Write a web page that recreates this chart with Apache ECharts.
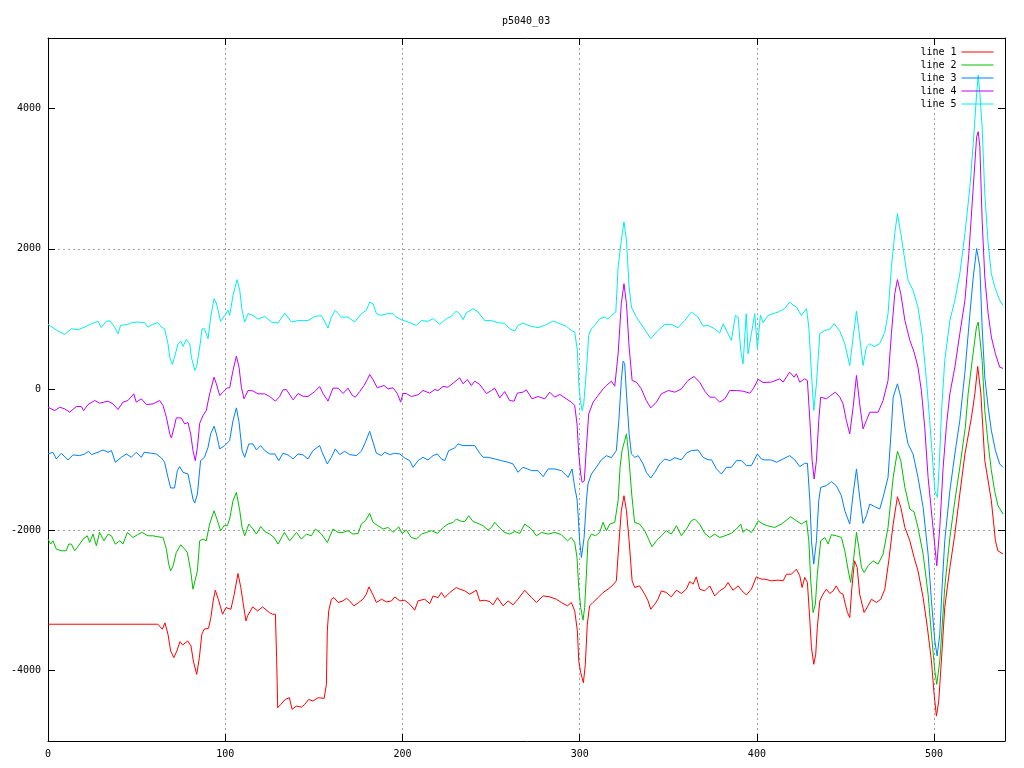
<!DOCTYPE html>
<html><head><meta charset="utf-8">
<script src="https://cdn.jsdelivr.net/npm/echarts@6/dist/echarts.min.js"></script>
<style>html,body{margin:0;padding:0;background:#fff}#c{width:1024px;height:768px}</style>
</head><body><div id="c"></div>
<script>
const titleText = 'p5040_03';
const seriesNames = ['line 1', 'line 2', 'line 3', 'line 4', 'line 5'];
const xTicks = [0, 100, 200, 300, 400, 500];
const yTicks = [-4000, -2000, 0, 2000, 4000];

const line1 = [[0,-3339],[62,-3339],[64.5,-3410],[66,-3320],[67.7,-3481],[69.2,-3719],[71,-3815],[72.7,-3719],[74.5,-3586],[76,-3634],[78.8,-3577],[80.7,-3648],[82,-3862],[83.9,-4052],[85.4,-3815],[86.8,-3481],[88.1,-3410],[90.6,-3396],[91.9,-3244],[93.2,-3007],[94.4,-2855],[96.1,-2983],[98.5,-3197],[100.4,-3102],[103.2,-3126],[105.1,-2912],[107.2,-2617],[108.8,-2817],[110.2,-3054],[111.7,-3292],[112.6,-3221],[115.5,-3093],[118.3,-3150],[121.1,-3093],[124.9,-3173],[126.8,-3197],[128.3,-3197],[129,-3815],[129.6,-4527],[131.4,-4479],[133.9,-4408],[136.2,-4384],[137.7,-4550],[140.2,-4503],[143,-4518],[144.9,-4479],[147.1,-4408],[149.5,-4432],[152.4,-4384],[155.8,-4394],[157.1,-4194],[157.6,-3434],[158.4,-3149],[159.9,-2983],[161.4,-2960],[163.7,-3030],[166.5,-3007],[168.4,-2970],[170.2,-3007],[172.6,-3078],[175.3,-3030],[177.7,-2983],[179.6,-2912],[181.1,-2807],[183.4,-2922],[185.3,-3030],[188.2,-2983],[191,-3021],[193.8,-3007],[195.7,-2950],[198.5,-3007],[201.3,-2998],[204.1,-3054],[206.9,-3139],[208.8,-3007],[212.6,-2983],[215.4,-3045],[217.3,-2936],[220.1,-2960],[222,-2888],[223.9,-2960],[226.7,-2888],[230.4,-2817],[232.3,-2840],[235.2,-2864],[238,-2912],[241.7,-2855],[243.6,-3007],[246.4,-2998],[249.3,-3017],[251.1,-3064],[253.6,-2960],[256.8,-3078],[259.6,-3007],[262.4,-3064],[265.2,-2983],[269,-2855],[272.8,-2960],[275.6,-3030],[279.4,-2936],[283.1,-2950],[286.9,-2983],[289.7,-3030],[293.1,-3078],[295.3,-3030],[297.2,-3149],[298.7,-3434],[299.5,-3862],[300.6,-4028],[302.1,-4171],[303.2,-3910],[304.3,-3339],[305.6,-3078],[307.5,-3030],[310.4,-2960],[313.2,-2888],[316,-2840],[318.3,-2793],[320.7,-2722],[322.1,-2199],[323.5,-1724],[325,-1511],[326.4,-1724],[327.9,-2152],[329.6,-2722],[331.1,-2817],[333.8,-2793],[336.7,-2912],[338.6,-3007],[340.1,-3126],[342.4,-3054],[344.2,-2983],[346.1,-2864],[348.9,-2888],[351.7,-2950],[354.6,-2855],[357.4,-2902],[360.2,-2840],[362.1,-2731],[364,-2769],[365.8,-2665],[367.7,-2840],[370.6,-2864],[373.4,-2793],[376.2,-2936],[379,-2864],[381.9,-2817],[383.7,-2745],[386.5,-2855],[389.4,-2793],[391.6,-2864],[394.1,-2922],[396.9,-2840],[399.7,-2665],[402.5,-2698],[404.5,-2698],[408.2,-2722],[412,-2712],[414.8,-2722],[416.7,-2627],[419.5,-2627],[422.3,-2555],[424.2,-2650],[425.5,-2817],[427,-2674],[428.5,-2745],[429.9,-3292],[430.8,-3672],[432.1,-3909],[433.2,-3767],[434.1,-3387],[435.5,-3007],[437.3,-2912],[439.2,-2840],[441.1,-2902],[443,-2864],[444.8,-2793],[446.8,-2888],[448.6,-2912],[449.9,-3054],[451.1,-3173],[452.4,-3244],[453.6,-2817],[455.1,-2437],[456.6,-2532],[458,-2912],[460.5,-3173],[462.7,-3078],[464.6,-2983],[467.4,-3030],[469.9,-2983],[472.2,-2840],[474.4,-2437],[476.9,-1914],[479.3,-1525],[481.2,-1677],[483.5,-1962],[486.3,-2152],[488.7,-2390],[490.9,-2579],[493.8,-2960],[496.2,-3387],[498.5,-3862],[500,-4336],[501.3,-4646],[502.6,-4432],[504.1,-3862],[506,-3102],[508.9,-2532],[511.7,-2057],[514.5,-1487],[517.4,-917],[521.1,-394],[523,-62],[524.6,328],[526.4,-62],[527.7,-632],[528.6,-1012],[530.5,-1300],[532.3,-1582],[534.6,-2152],[536,-2294],[538.9,-2341]];

const line2 = [[0,-2128],[1.5,-2199],[2.8,-2152],[4.7,-2270],[7.5,-2294],[10.3,-2294],[11.7,-2199],[13.2,-2199],[15.1,-2294],[17.9,-2199],[19.8,-2128],[22.2,-2081],[23.5,-2176],[25.4,-2057],[27.3,-2223],[29.1,-2033],[31.6,-2152],[33.9,-2057],[35.8,-2081],[38,-2199],[40.5,-2152],[42.3,-2199],[44.8,-2033],[48,-2105],[50.5,-2066],[53.1,-2033],[56.4,-2081],[59.3,-2081],[62,-2095],[64.9,-2105],[66.8,-2270],[68.1,-2484],[69.2,-2579],[70.6,-2508],[72.4,-2318],[74.9,-2209],[77.1,-2270],[78.6,-2318],[80.5,-2579],[81.8,-2840],[82.7,-2854],[84.3,-2579],[85.6,-2152],[87.5,-2128],[89.3,-2152],[91.2,-1914],[93.7,-1724],[95.3,-1843],[97.4,-2009],[99.3,-1938],[101.2,-1938],[102.5,-1843],[104.4,-1582],[106.3,-1463],[108.2,-1724],[109.5,-1962],[111,-2081],[113.3,-1914],[115.7,-1985],[117.6,-2057],[120,-1950],[122.3,-2020],[125.1,-2057],[127.6,-2105],[129.8,-2199],[133.4,-2033],[136.4,-2152],[140.2,-2033],[143,-2128],[145.8,-2057],[148.6,-2081],[150.9,-1985],[154.3,-2057],[157.6,-2176],[160.8,-1985],[163.7,-2033],[166.5,-2033],[169.3,-2009],[172.1,-2057],[175,-2047],[176.8,-1914],[179.1,-1867],[181.5,-1762],[183.4,-1890],[186.2,-1938],[189.1,-1985],[191.9,-1962],[194.7,-2033],[197.9,-1953],[199.8,-2047],[202.2,-2000],[205,-2105],[207.9,-2128],[210.7,-2057],[213.5,-2033],[216.4,-2009],[219.8,-2047],[223,-1962],[225.7,-1914],[228.6,-1890],[230.4,-1843],[233.3,-1877],[235.2,-1877],[237.4,-1795],[239.8,-1877],[242.7,-1905],[245.5,-1938],[248.3,-2000],[250.2,-1962],[252.1,-1890],[254.9,-1970],[257.7,-2033],[260.5,-2057],[263.4,-2020],[266.2,-2047],[269,-1914],[272.8,-1985],[275.6,-2081],[278.5,-2033],[282.2,-2057],[286,-2033],[289.7,-2066],[293.1,-2152],[295.3,-2105],[297.2,-2176],[298.5,-2390],[299.5,-2817],[300.6,-3102],[301.9,-3282],[302.8,-3102],[303.8,-2626],[304.7,-2152],[306.6,-2057],[308.9,-2081],[311.3,-2033],[313.2,-1890],[315.1,-2009],[317,-1914],[319.8,-1890],[321.7,-1582],[322.8,-1107],[323.9,-869],[325.4,-727],[326.4,-631],[327.6,-917],[329.4,-1500],[331,-1890],[333.8,-1914],[336.7,-2009],[338.9,-2128],[340.8,-2237],[343.3,-2152],[346.1,-2081],[348.9,-2009],[351.7,-2057],[354.6,-1938],[357.4,-2081],[360.2,-1985],[363,-1867],[364.9,-1843],[367.7,-1914],[370.6,-2047],[373.4,-2105],[376.2,-2057],[379,-2105],[381.9,-2081],[385.6,-2047],[388.4,-1985],[390.9,-1914],[392.2,-2033],[394.1,-1985],[396.9,-2033],[398.8,-1962],[400.7,-1867],[403.5,-1914],[406,-1938],[410.1,-1962],[413.9,-1914],[419.1,-1810],[422.3,-1867],[425.1,-1914],[428,-1867],[429.3,-2152],[430.4,-2722],[431.7,-3173],[433,-3054],[434.1,-2626],[436,-2152],[438.3,-2105],[440.2,-2199],[442,-2066],[444.8,-2081],[447.7,-2105],[449.6,-2294],[451.4,-2555],[452.9,-2745],[454.3,-2484],[456.2,-2033],[457.5,-2247],[459,-2532],[460.5,-2603],[462.7,-2508],[465.5,-2437],[468.4,-2484],[471.2,-2341],[474,-1962],[476.9,-1249],[479.3,-879],[481.2,-1012],[483.5,-1392],[486.3,-1700],[488.7,-1743],[490.9,-1962],[493.8,-2341],[496.6,-2911],[498.5,-3481],[500.4,-4004],[501.5,-4194],[503.2,-3862],[504.5,-3387],[506,-2817],[508.9,-2105],[511.7,-1582],[514.5,-1107],[517.6,-537],[519.2,-62],[521.5,413],[523.9,888],[524.9,960],[527.1,413],[528.6,-300],[530.5,-774],[532.3,-1150],[534.2,-1450],[536,-1650],[538.9,-1771]];

const line3 = [[0,-917],[2.8,-893],[4.7,-988],[7.5,-907],[11.3,-1002],[14.1,-930],[17.9,-940],[20.7,-917],[22.9,-879],[24.5,-926],[28.2,-893],[31,-860],[33.9,-893],[35.8,-869],[38,-1035],[41.4,-964],[44.2,-917],[47,-964],[49.8,-893],[52.7,-964],[54.2,-893],[58.3,-907],[61.1,-917],[64,-974],[65.8,-1035],[67.7,-1249],[69.2,-1401],[71.4,-1401],[73,-1154],[74.3,-1097],[76.2,-1178],[79,-1202],[80.5,-1392],[81.8,-1558],[82.8,-1615],[84.3,-1487],[86.1,-1012],[88.3,-964],[90.3,-822],[91.8,-631],[93.7,-522],[95,-631],[96.9,-845],[99.7,-798],[102.5,-727],[104.4,-442],[106.3,-261],[107.8,-465],[109.5,-869],[111,-964],[113.3,-774],[115.7,-774],[117.6,-860],[120,-798],[122.3,-869],[125.1,-917],[128,-917],[130.2,-1012],[132.6,-907],[135.4,-930],[138.3,-988],[141.1,-917],[143.9,-930],[146.7,-988],[149.5,-869],[153.3,-798],[154.7,-893],[157.6,-1059],[159.9,-964],[162.1,-845],[164.6,-926],[167.4,-879],[170.2,-926],[174,-940],[176.8,-879],[179.1,-750],[181.5,-594],[183.4,-750],[185.3,-907],[188.2,-940],[190,-893],[192.8,-926],[195.7,-907],[198.5,-917],[201.3,-974],[204.1,-1012],[206,-1107],[208.8,-1012],[211.6,-964],[214.4,-1002],[217.3,-940],[219.7,-917],[222,-988],[223.9,-1012],[226.1,-869],[229.5,-831],[231.4,-774],[234.2,-798],[237,-798],[240.8,-798],[243.6,-907],[245.5,-964],[248.3,-964],[252.1,-988],[255.8,-1012],[259.6,-1035],[262.4,-1059],[265.2,-1178],[268,-1107],[270.5,-1130],[272.8,-1154],[276.5,-1154],[279.4,-1240],[282.2,-1130],[286,-1130],[289.7,-1154],[293.5,-1249],[295.7,-1130],[297.2,-1392],[298.5,-1558],[299.1,-1771],[300,-2152],[301,-2390],[302.5,-2105],[303.8,-1582],[304.7,-1344],[306.6,-1202],[309.4,-1107],[312.2,-1002],[315.1,-941],[317.9,-970],[320.7,-869],[322.1,-442],[323.5,128],[324.5,403],[325.4,370],[326.4,-62],[327.9,-631],[329.2,-917],[331.1,-964],[333,-941],[335.8,-1059],[337.6,-1178],[340.1,-1259],[342.4,-1178],[345.2,-1059],[348,-988],[350.9,-1012],[353.7,-970],[357.4,-1000],[360.2,-907],[363,-869],[366.8,-860],[369.6,-964],[372.5,-1000],[374.4,-1000],[377.2,-1130],[380,-1202],[382.8,-1107],[385.6,-1107],[388.4,-1012],[391.3,-1012],[394.1,-1083],[396.9,-1083],[400.3,-917],[402.5,-988],[404.5,-1002],[408.2,-1002],[411.1,-1035],[414.8,-988],[418.5,-941],[421.4,-1002],[424.2,-1097],[427,-1050],[428.5,-1050],[429.9,-1582],[430.8,-2152],[432.1,-2484],[433.6,-2152],[434.9,-1582],[436,-1392],[439.2,-1368],[442,-1311],[444.8,-1368],[447.7,-1511],[449.6,-1725],[452.4,-1914],[454.3,-1487],[456.2,-1130],[458,-1534],[459.9,-1905],[461.8,-1795],[463.7,-1629],[466.5,-1667],[469.3,-1700],[471.2,-1535],[474,-1249],[475.9,-537],[476.9,-109],[479.3,81],[481.2,-109],[483.5,-537],[485.3,-774],[488.1,-917],[490.9,-1249],[493.8,-1677],[496.6,-2341],[498.5,-3007],[500.4,-3577],[501.7,-3790],[503.2,-3481],[504.5,-2817],[506,-2152],[508.9,-1439],[511.7,-917],[514.5,-442],[517.4,250],[520.2,1078],[522.1,1600],[524,2005],[524.9,2020],[525.8,1743],[527.1,888],[528.6,176],[530.5,-252],[532.3,-584],[534.6,-869],[537,-1059],[538.9,-1107]];

const line4 = [[0,-252],[3.8,-300],[6.6,-252],[9.4,-275],[12.2,-323],[16,-242],[18.8,-242],[20.1,-300],[22.6,-214],[26.3,-157],[29.1,-195],[33.9,-166],[36.7,-205],[39.5,-285],[42.3,-180],[45.1,-157],[48.4,-62],[49.8,-180],[52.7,-133],[55.5,-214],[59.3,-205],[63,-157],[64.9,-228],[66.8,-394],[68.7,-631],[69.6,-689],[71.1,-545],[72.4,-404],[75.2,-404],[77.1,-489],[79,-470],[80.5,-631],[81.8,-869],[83.1,-1012],[84.3,-822],[85.6,-480],[87.5,-370],[89.3,-300],[91.2,-62],[93.7,176],[95,81],[96.9,-85],[98.8,-38],[101.2,24],[102.5,24],[104.4,271],[106.3,475],[107.8,318],[109.1,33],[110.6,-133],[112.9,-14],[115.7,-20],[118.5,-62],[122.3,-62],[125.1,-100],[128.3,-166],[130.7,-100],[132.6,-5],[134.5,0],[138.3,-147],[141.1,-57],[143.9,-95],[146.7,-100],[150.5,-30],[153.3,43],[155.2,-57],[158,-166],[160.8,19],[163.7,19],[166.5,-57],[169.3,19],[171.6,-80],[173.4,-109],[175.9,-30],[178.3,57],[180.2,142],[181.5,214],[183.4,140],[185.8,24],[189.6,57],[191.9,9],[194.7,24],[197.1,-57],[199,-180],[200.3,-57],[202.2,-57],[205,-100],[208.8,-76],[211.6,-14],[215.4,-52],[218.2,0],[220.1,-14],[222.9,43],[225.7,33],[228.6,90],[232.3,166],[234.2,81],[236.6,142],[238.9,57],[240.8,119],[243.6,71],[247.4,-57],[250.2,-14],[252.1,19],[254.9,-119],[257.7,-30],[260.5,-157],[263,-166],[264.8,-52],[268,-38],[269.9,-5],[273.1,-133],[276.5,-100],[280.3,-133],[283.1,-38],[285.9,-109],[288.8,-71],[292.5,-133],[295.3,-180],[297.2,-228],[298.5,-489],[299.5,-917],[300.6,-1202],[301.4,-1321],[302.6,-1300],[303.8,-822],[305.1,-347],[307.6,-180],[310.4,-85],[313.2,9],[315.1,57],[317.9,119],[319.8,47],[321.7,508],[323.5,1221],[325,1506],[326.4,1221],[327.9,603],[329.6,128],[332,105],[334.8,9],[337.6,-157],[340.1,-261],[343.3,-180],[346.1,-62],[350,-14],[353.7,-38],[357.4,9],[361.1,128],[364.5,185],[367.7,105],[370.6,-24],[373.4,-109],[376.2,-109],[379,-180],[381.9,-133],[384.7,-14],[388.4,-14],[392.2,-24],[396,-52],[397.9,9],[400.7,145],[403.5,100],[408.2,105],[412.9,152],[414.8,105],[418.5,247],[421,176],[422.3,223],[424.2,105],[427,152],[428.5,128],[429.9,-442],[431.2,-1012],[432.3,-1273],[433.6,-1012],[434.9,-442],[436,-109],[439.2,-133],[441.6,-85],[444.3,-38],[446.8,-109],[448.6,-204],[450.5,-442],[452.4,-632],[454.3,-252],[456.2,200],[458,-204],[459.9,-561],[461.8,-442],[463.7,-323],[468.4,-323],[471.2,-157],[474,128],[475.9,793],[477.8,1363],[479.3,1563],[481.2,1363],[483.5,983],[486.3,698],[488.7,532],[490.9,318],[492.8,-14],[494.7,-537],[496.6,-1249],[501.5,-2508],[503.2,-1962],[505.1,-1107],[507,-500],[508.9,-62],[511.7,318],[514.5,793],[517.4,1268],[519.6,1933],[522.1,2883],[524,3596],[524.9,3667],[525.8,3453],[527.1,2408],[528.6,1600],[530.5,1078],[532.3,746],[534.6,508],[537,318],[538.9,300]];

const line5 = [[0,926],[5.6,831],[9.4,783],[13.2,864],[17,850],[20.7,888],[24.5,936],[28.2,969],[30,880],[33,974],[35,974],[37.6,888],[39.5,793],[41,912],[45,926],[47,950],[50.8,960],[54.5,950],[56.4,888],[59,926],[62,950],[64,888],[65.8,864],[67.7,651],[68.7,460],[70.2,356],[71.4,460],[73.4,651],[74.9,688],[76.2,613],[78,712],[80,651],[80.9,460],[82.8,271],[84,342],[85.6,603],[87,864],[88.3,864],[90.3,722],[91.8,1031],[93.7,1292],[95,1230],[97.4,969],[99.7,1054],[101.6,1126],[102.5,1054],[104.4,1340],[106.7,1563],[108.2,1411],[109.5,1126],[111,960],[112.9,1078],[115.7,1054],[118.5,1000],[122.3,1040],[126,960],[129.8,945],[133.6,1088],[137.3,960],[141,980],[146.7,980],[150.5,1040],[154.3,1050],[158,874],[159.9,1030],[162.1,1126],[165.5,1030],[169.3,1030],[173,960],[176.8,1078],[179.6,1126],[181.5,1244],[183.4,1220],[185.3,1078],[188,1054],[191,1078],[194.7,1078],[196.6,1030],[199.4,993],[203.2,960],[207.8,912],[210.7,980],[214.4,970],[217.3,1008],[221,926],[224.8,1008],[227.6,1040],[230.4,1116],[232.3,1078],[234.2,993],[236,1088],[239.8,1150],[242.7,1102],[246.4,980],[250.2,980],[254,950],[257.7,940],[260.5,864],[263.4,831],[265.2,912],[268,945],[270.9,912],[272.8,900],[276.5,879],[280.3,912],[285,974],[288.8,936],[292.5,900],[295.3,840],[297.2,816],[298.7,556],[299.5,81],[300.4,-157],[301.4,-300],[302.3,-200],[303.8,271],[305.1,770],[306.6,860],[308.5,912],[311.3,1007],[314.2,1030],[316,1000],[317.9,1054],[320.4,1102],[321.7,1743],[323.5,2123],[325,2384],[326.4,2123],[327.9,1458],[329.2,1173],[332,1030],[335.8,888],[340.1,722],[344.2,840],[348,926],[351.7,926],[355.5,879],[359.3,983],[363,1102],[366.8,1030],[369.6,900],[372.5,912],[376.2,864],[379,803],[381,936],[383.7,793],[385.6,698],[387.9,1054],[389.4,1030],[390.9,556],[392.2,366],[394,1078],[395,508],[396.9,793],[398.8,1078],[400.3,580],[402,1060],[403.5,950],[406.3,1054],[412,1102],[415.7,1150],[418.5,1244],[420.4,1200],[422.3,1173],[425.1,1054],[428,1150],[429.3,888],[430.8,223],[432.1,-300],[433.6,81],[435.5,793],[438.3,840],[441.1,855],[443.6,936],[446.8,830],[449.6,651],[452.4,342],[454.3,746],[456.2,1116],[458,746],[459.9,342],[461.8,603],[463.7,651],[466.1,610],[469.3,651],[472.2,817],[474,1078],[475.9,1743],[477.8,2218],[479.3,2503],[481.2,2218],[483.5,1838],[485.3,1553],[488.1,1411],[490.9,1173],[493.2,793],[495.7,128],[497.5,-442],[498.9,-917],[500.4,-1439],[501.9,-1535],[503.2,-917],[504.1,-347],[506,413],[508.9,983],[511.7,1268],[514.5,1648],[517.4,2218],[520.2,2883],[522.1,3501],[524,4213],[524.9,4474],[525.8,4213],[527.1,3738],[528.6,2788],[530.5,2076],[532.3,1648],[534.2,1458],[537,1268],[538.9,1197]];

const lines = [line1, line2, line3, line4, line5];
const colors = ['#ff0000', '#00c000', '#0080ff', '#c000ff', '#00eeee'];
const FONT = 'DejaVu Sans Mono';
const GRID = '#a0a0a0';

const chart = echarts.init(document.getElementById('c'), null, {renderer: 'canvas'});
const baseAxis = {
  axisLine: {show: true, onZero: false, lineStyle: {color: '#000', width: 1}},
  axisTick: {show: true, inside: true, length: 7, lineStyle: {color: '#000'}},
};
chart.setOption({
  animation: false,
  backgroundColor: '#fff',
  title: {text: titleText, left: 497, top: 11, textStyle: {fontFamily: FONT, fontSize: 10, fontWeight: 'normal', color: '#000'}},
  legend: {
    data: seriesNames, orient: 'vertical', right: 30, top: 46, align: 'right', padding: 0,
    itemWidth: 32, itemHeight: 13, itemGap: 1,
    lineStyle: {width: 1},
    itemStyle: {opacity: 0, borderWidth: 0},
    textStyle: {fontFamily: FONT, fontSize: 10, color: '#000', lineHeight: 12},
    selectedMode: false
  },
  grid: {left: 48, right: 19, top: 38, bottom: 27, containLabel: false, show: false},
  xAxis: [
    Object.assign({}, baseAxis, {
      type: 'value', position: 'bottom', min: 0, max: 540, interval: 100,
      axisTick: Object.assign({}, baseAxis.axisTick, {customValues: xTicks}),
      axisLabel: {fontFamily: FONT, fontSize: 10, color: '#000', margin: 8, showMaxLabel: false,
        formatter: v => xTicks.indexOf(v) >= 0 ? String(v) : ''},
      splitLine: {show: true, lineStyle: {color: ['rgba(0,0,0,0)', GRID, GRID, GRID, GRID, GRID], type: [2, 3], width: 1}}
    }),
    Object.assign({}, baseAxis, {
      type: 'value', position: 'top', min: 0, max: 540, interval: 100,
      axisTick: Object.assign({}, baseAxis.axisTick, {customValues: xTicks}),
      axisLabel: {show: false}, splitLine: {show: false}
    })
  ],
  yAxis: [
    Object.assign({}, baseAxis, {
      type: 'value', position: 'left', min: -5000, max: 5000, interval: 1000,
      axisTick: Object.assign({}, baseAxis.axisTick, {customValues: yTicks}),
      axisLabel: {fontFamily: FONT, fontSize: 10, color: '#000', margin: 7,
        formatter: v => yTicks.indexOf(v) >= 0 ? String(v) : ''},
      splitLine: {show: true, lineStyle: {color: ['rgba(0,0,0,0)', GRID], type: [2, 3], width: 1}}
    }),
    Object.assign({}, baseAxis, {
      type: 'value', position: 'right', min: -5000, max: 5000, interval: 1000,
      axisTick: Object.assign({}, baseAxis.axisTick, {customValues: yTicks}),
      axisLabel: {show: false}, splitLine: {show: false}
    })
  ],
  series: lines.map((d, i) => ({
    name: seriesNames[i], type: 'line', data: d, xAxisIndex: 0, yAxisIndex: 0,
    showSymbol: false, symbol: 'none', silent: true,
    lineStyle: {color: colors[i], width: 1}, itemStyle: {color: colors[i]},
    emphasis: {disabled: true}
  }))
});
</script></body></html>
